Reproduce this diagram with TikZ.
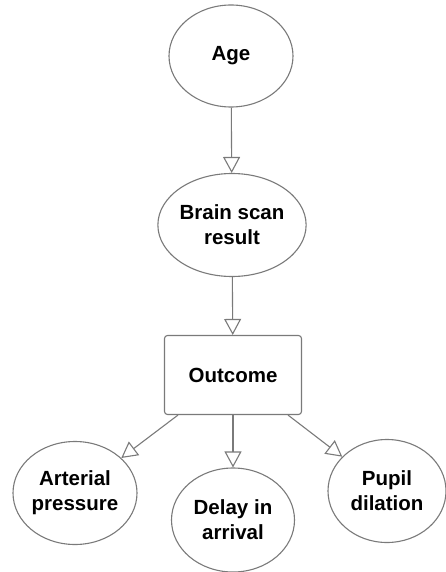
\documentclass[tikz,border=0pt]{standalone}
\usepackage{fontspec}
\setmainfont{Liberation Sans}
\usetikzlibrary{arrows.meta,shapes.geometric}
\definecolor{edge}{HTML}{7A7A7A}
\begin{document}
\begin{tikzpicture}[x=1pt,y=-1pt,
  lbl/.style={font=\fontsize{20.5}{25}\selectfont\bfseries, align=center, text=black},
  oval/.style={ellipse, draw=edge, line width=1.1pt, lbl, inner sep=0pt},
  card/.style={rectangle, draw=edge, line width=1.1pt, rounded corners=3pt, lbl},
  link/.style={draw=edge, line width=1.1pt, -{Triangle[open, length=16pt, width=17pt]}}]
  \useasboundingbox (0,0) rectangle (446,572);
  \node[oval, minimum width=124pt, minimum height=102pt] (age) at (231,56) {Age};
  \node[oval, minimum width=126pt, minimum height=103pt] (scan) at (232,225) {Brain scan\\result};
  \node[card, minimum width=137pt, minimum height=79pt] (out) at (233,375) {Outcome};
  \node[oval, minimum width=124pt, minimum height=103pt] (art) at (75,493) {Arterial\\pressure};
  \node[oval, minimum width=123pt, minimum height=104pt] (delay) at (233,520) {Delay in\\arrival};
  \node[oval, minimum width=118pt, minimum height=103pt] (pupil) at (387,491) {Pupil\\dilation};
  \draw[link] (age) -- (scan);
  \draw[link] (scan) -- (out);
  \draw[link] (out.south) -- (delay);
  \draw[link] ([xshift=-55pt]out.south) -- (art);
  \draw[link] ([xshift=55pt]out.south) -- (pupil);
\end{tikzpicture}
\end{document}
